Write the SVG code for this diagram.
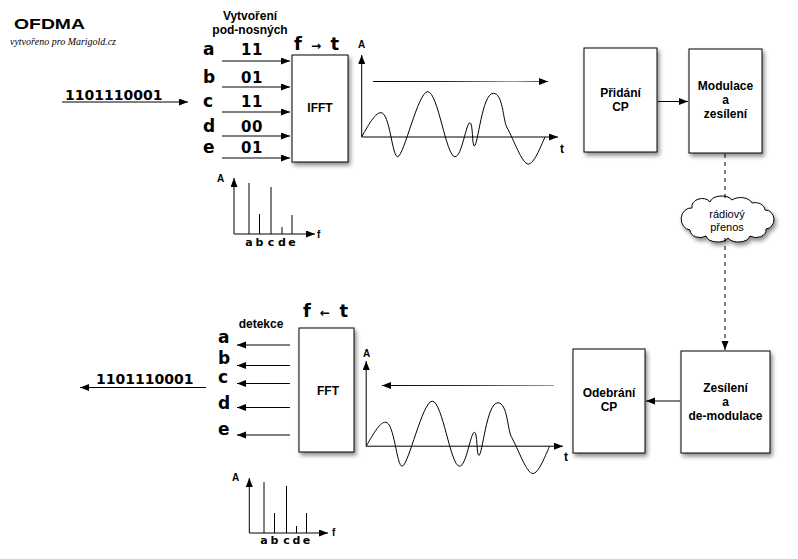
<svg xmlns="http://www.w3.org/2000/svg" width="798" height="559" viewBox="0 0 798 559">
<style>
.box{fill:#fff;stroke:#000;stroke-width:1;filter:url(#sh)}
.lbl{font-family:"Liberation Sans",Arial,sans-serif;font-weight:bold;font-size:12px;fill:#000;text-anchor:middle}
.big{font-family:"DejaVu Sans",sans-serif;font-weight:bold;font-size:14px;fill:#000}
.num{font-family:"DejaVu Sans",sans-serif;font-weight:bold;font-size:15px;fill:#000;text-anchor:middle;letter-spacing:0.5px}
.let{font-family:"DejaVu Sans",sans-serif;font-weight:bold;font-size:17px;fill:#000}
.sm{font-family:"Liberation Sans",Arial,sans-serif;font-weight:bold;font-size:10px;fill:#000}
.sl{font-family:"DejaVu Sans",sans-serif;font-weight:bold;font-size:11px;fill:#000;text-anchor:middle}
.ft{font-family:"DejaVu Sans",sans-serif;font-weight:bold;font-size:18px;fill:#000;word-spacing:3px}
.ax{stroke:#000;stroke-width:1;fill:none;marker-end:url(#ah)}
.ln{stroke:#000;stroke-width:1;fill:none}
.dash{stroke:#000;stroke-width:1;stroke-dasharray:4,4;fill:none}
.wave{stroke:#000;stroke-width:1;fill:none}
</style>
<defs>
<filter id="sh" x="-20%" y="-20%" width="150%" height="150%">
<feDropShadow dx="2" dy="3" stdDeviation="2" flood-color="#000" flood-opacity="0.45"/>
</filter>
<marker id="ah" markerUnits="userSpaceOnUse" markerWidth="10" markerHeight="8" refX="9" refY="3.5" orient="auto">
<path d="M0,0 L9,3.5 L0,7 Z" fill="#000"/>
</marker>
<linearGradient id="gr" gradientUnits="userSpaceOnUse" x1="373" y1="0" x2="548" y2="0">
<stop offset="0" stop-color="#000"/>
<stop offset="0.4" stop-color="#222"/>
<stop offset="0.8" stop-color="#999"/>
<stop offset="1" stop-color="#444"/>
</linearGradient>
<linearGradient id="gr2" gradientUnits="userSpaceOnUse" x1="382" y1="0" x2="554" y2="0">
<stop offset="0" stop-color="#000"/>
<stop offset="0.5" stop-color="#333"/>
<stop offset="1" stop-color="#999"/>
</linearGradient>
<path id="wv" d="M361.7,136.7 C370,122 376,112.5 381,112.7 C390,113 392,157 397.7,156.7 C404,156 418,91.7 427.7,91.7 C438,91.7 446,156.7 455,156.7 C462,156.7 466,122.7 470,122.7 C473,122.7 472,146 474.3,146 C478,146 482,93.3 493.3,93.3 C503,93.3 503,120 506.7,127 C514,140 522,164 528.3,164 C534,164 540,148 545,137"/>
</defs>

<g id="title">
<text x="14" y="29" font-family="'Liberation Sans',Arial,sans-serif" font-weight="900" font-size="15" textLength="71" lengthAdjust="spacingAndGlyphs">OFDMA</text>
<text x="10" y="45" font-family="'Liberation Serif','Times New Roman',serif" font-style="italic" font-size="10" textLength="106" lengthAdjust="spacingAndGlyphs">vytvořeno pro Marigold.cz</text>
</g>

<g id="tx-header">
<text class="lbl" x="250" y="20" font-size="11.5">Vytvoření</text>
<text class="lbl" x="250" y="33.5" font-size="11.5">pod-nosných</text>
</g>

<g id="tx-subcarriers">
<text class="let" x="203" y="55">a</text>
<text class="let" x="203" y="83">b</text>
<text class="let" x="203" y="107">c</text>
<text class="let" x="203" y="132">d</text>
<text class="let" x="203" y="153">e</text>
<text class="num" x="252" y="55">11</text>
<text class="num" x="252" y="83">01</text>
<text class="num" x="252" y="107">11</text>
<text class="num" x="252" y="132">00</text>
<text class="num" x="252" y="153">01</text>
</g>

<g id="tx-input">
<text class="big" x="65" y="100">1101110001</text>
</g>

<g id="ifft">
<rect class="box" x="292" y="55" width="56" height="107"/>
<text class="lbl" x="320" y="112" font-size="11">IFFT</text>
<text class="ft" x="294" y="50">f <tspan font-size="12">→</tspan> t</text>
</g>

<g id="tx-wave">
<use href="#wv" class="wave"/>
<text class="sm" x="358" y="48">A</text>
<text class="lbl" x="562" y="153">t</text>
</g>

<g id="tx-spectrum">
<line class="ln" x1="249" y1="234" x2="249" y2="183"/>
<line class="ln" x1="259.5" y1="234" x2="259.5" y2="214"/>
<line class="ln" x1="271" y1="234" x2="271" y2="187"/>
<line class="ln" x1="282" y1="234" x2="282" y2="227"/>
<line class="ln" x1="292" y1="234" x2="292" y2="215"/>
<text class="sm" x="217" y="182">A</text>
<text class="sm" x="317" y="238">f</text>
<text class="sl" x="249" y="246">a</text>
<text class="sl" x="259.5" y="246">b</text>
<text class="sl" x="271" y="246">c</text>
<text class="sl" x="282" y="246">d</text>
<text class="sl" x="292" y="246">e</text>
</g>

<g id="pridani-cp">
<rect class="box" x="584" y="48" width="73" height="104"/>
<text class="lbl" x="620.5" y="97">Přidání</text>
<text class="lbl" x="620.5" y="111">CP</text>
</g>

<g id="modulace">
<rect class="box" x="689" y="49" width="73" height="104"/>
<text class="lbl" x="725.5" y="90">Modulace</text>
<text class="lbl" x="725.5" y="104">a</text>
<text class="lbl" x="725.5" y="118">zesílení</text>
</g>

<g id="cloud">
<path d="M692,208 A10,8 0 0 1 710,202 A12,8 0 0 1 732,200 A12,8 0 0 1 752,203 A10,8 0 0 1 765,210 A8,9 0 0 1 766,229 A10,8 0 0 1 750,236 A12,8 0 0 1 728,238 A12,8 0 0 1 706,236 A10,8 0 0 1 690,230 A8,9 0 0 1 692,208 Z" fill="#fff" stroke="#000" stroke-width="1" filter="url(#sh)"/>
<text x="727" y="218" font-family="'Liberation Sans',Arial,sans-serif" font-size="11" text-anchor="middle">rádiový</text>
<text x="727" y="231" font-family="'Liberation Sans',Arial,sans-serif" font-size="11" text-anchor="middle">přenos</text>
</g>

<g id="zesileni">
<rect class="box" x="681" y="351" width="89" height="102"/>
<text class="lbl" x="725.5" y="392">Zesílení</text>
<text class="lbl" x="725.5" y="406">a</text>
<text class="lbl" x="725.5" y="420">de-modulace</text>
</g>

<g id="odebrani-cp">
<rect class="box" x="573" y="349" width="72" height="104"/>
<text class="lbl" x="609" y="397">Odebrání</text>
<text class="lbl" x="609" y="411">CP</text>
</g>

<g id="rx-wave">
<use href="#wv" class="wave" transform="translate(4.5,309.5)"/>
<text class="sm" x="363" y="357">A</text>
<text class="lbl" x="566" y="461">t</text>
</g>

<g id="fft">
<rect class="box" x="299" y="328" width="55" height="124"/>
<text class="lbl" x="328" y="395" font-size="11">FFT</text>
<text class="ft" x="303" y="317">f <tspan font-size="12">←</tspan> t</text>
</g>

<g id="rx-detect">
<text class="lbl" x="261" y="328">detekce</text>
<text class="let" x="218" y="343">a</text>
<text class="let" x="218" y="364">b</text>
<text class="let" x="218" y="383">c</text>
<text class="let" x="218" y="409">d</text>
<text class="let" x="218" y="435">e</text>
</g>

<g id="rx-output">
<text class="big" x="96" y="384">1101110001</text>
</g>

<g id="rx-spectrum">
<line class="ln" x1="264" y1="533" x2="264" y2="482"/>
<line class="ln" x1="274.5" y1="533" x2="274.5" y2="513"/>
<line class="ln" x1="286.5" y1="533" x2="286.5" y2="486"/>
<line class="ln" x1="296.5" y1="533" x2="296.5" y2="526"/>
<line class="ln" x1="306.5" y1="533" x2="306.5" y2="513"/>
<text class="sm" x="232" y="481">A</text>
<text class="sm" x="332" y="536">f</text>
<text class="sl" x="264" y="544">a</text>
<text class="sl" x="274.5" y="544">b</text>
<text class="sl" x="286.5" y="544">c</text>
<text class="sl" x="296.5" y="544">d</text>
<text class="sl" x="306.5" y="544">e</text>
</g>

<g id="connectors">
<line class="ax" x1="62" y1="102" x2="188" y2="102"/>
<line class="ax" x1="222" y1="61" x2="290" y2="61"/>
<line class="ax" x1="222" y1="87" x2="290" y2="87"/>
<line class="ax" x1="222" y1="112" x2="290" y2="112"/>
<line class="ax" x1="222" y1="136" x2="290" y2="136"/>
<line class="ax" x1="222" y1="158" x2="290" y2="158"/>
<line class="ax" x1="361.7" y1="137" x2="361.7" y2="55"/>
<line class="ax" x1="361.7" y1="137" x2="558" y2="137"/>
<line x1="373" y1="81.5" x2="548" y2="81.5" stroke="url(#gr)" stroke-width="1.2" marker-end="url(#ah)"/>
<line class="ax" x1="234" y1="234" x2="234" y2="178"/>
<line class="ax" x1="234" y1="234" x2="315" y2="234"/>
<line class="ax" x1="658" y1="101.5" x2="688" y2="101.5"/>
<line class="dash" x1="725" y1="154" x2="725" y2="201"/>
<line class="dash" x1="725" y1="238" x2="725" y2="343"/>
<line class="ax" x1="725" y1="343" x2="725" y2="350"/>
<line class="ax" x1="680" y1="401" x2="646" y2="401"/>
<line x1="554" y1="385.5" x2="382" y2="385.5" stroke="url(#gr2)" stroke-width="1.2" marker-end="url(#ah)"/>
<line class="ax" x1="366.2" y1="446.2" x2="366.2" y2="361"/>
<line class="ax" x1="366.2" y1="446.2" x2="563" y2="446.2"/>
<line class="ax" x1="290" y1="345" x2="237" y2="345"/>
<line class="ax" x1="290" y1="365.5" x2="237" y2="365.5"/>
<line class="ax" x1="290" y1="383.5" x2="237" y2="383.5"/>
<line class="ax" x1="290" y1="407.5" x2="237" y2="407.5"/>
<line class="ax" x1="290" y1="435" x2="237" y2="435"/>
<line class="ax" x1="206" y1="387.5" x2="80" y2="387.5"/>
<line class="ax" x1="249.3" y1="533" x2="249.3" y2="478"/>
<line class="ax" x1="249.3" y1="533" x2="328" y2="533"/>
</g>
</svg>
